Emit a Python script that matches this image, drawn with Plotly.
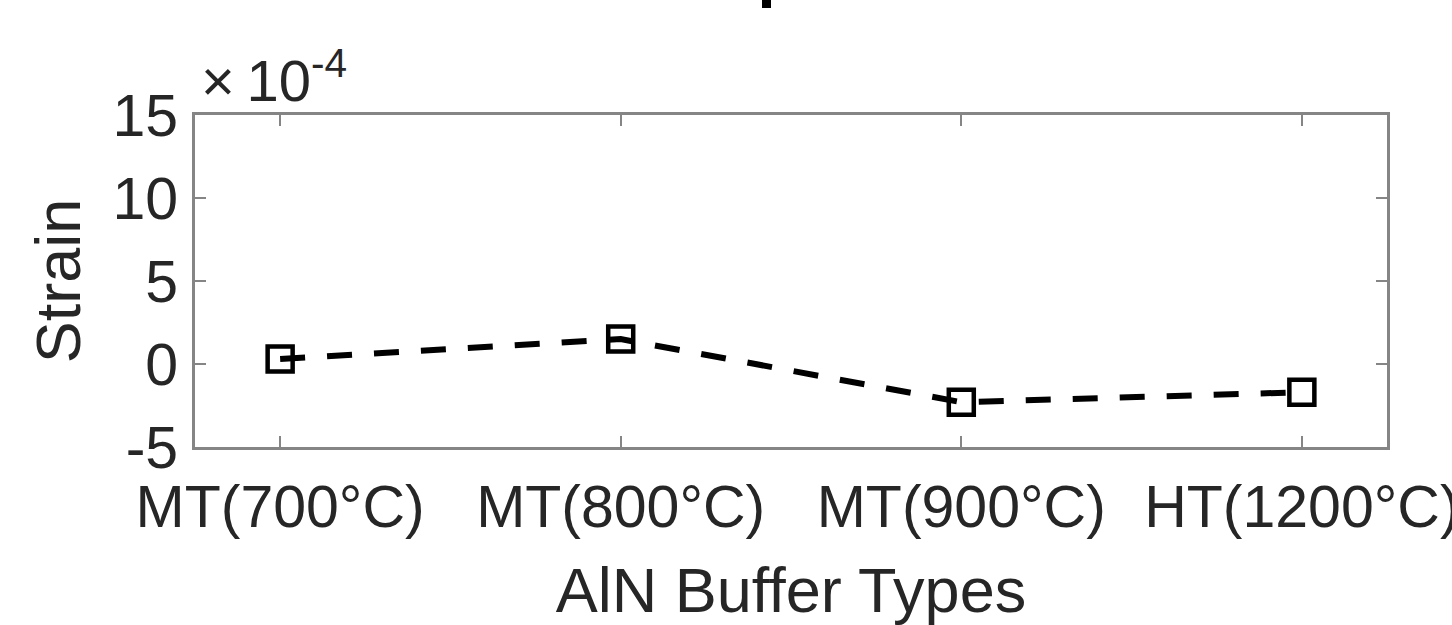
import plotly.graph_objects as go

# AlN buffer types and the measured strain (in units of 1e-4)
buffer_types = ["MT(700°C)", "MT(800°C)", "MT(900°C)", "HT(1200°C)"]
strain_e4 = [0.3, 1.5, -2.3, -1.7]
y_ticks = [-5, 0, 5, 10, 15]
y_tick_text = ["-5", "0", "5", "10", "15"]

x_pos = list(range(len(buffer_types)))

FONT = "Liberation Sans, Arial, Helvetica, sans-serif"
TEXT = "#262626"
AXIS = "#858585"

fig = go.Figure()

# open square markers underneath, dashed line drawn on top of them
fig.add_trace(go.Scatter(
    x=x_pos, y=strain_e4, mode="markers",
    marker=dict(symbol="square-open", size=25, color="black",
                line=dict(width=4.5, color="black")),
    showlegend=False, hoverinfo="skip",
))
fig.add_trace(go.Scatter(
    x=x_pos, y=strain_e4, mode="lines",
    line=dict(color="black", width=6, dash="25px,22px"),
    showlegend=False,
))

fig.update_layout(
    width=1452, height=625,
    margin=dict(l=195, r=65, t=115, b=178, autoexpand=False),
    paper_bgcolor="white", plot_bgcolor="white",
    font=dict(family=FONT, color=TEXT, size=58),
    xaxis=dict(
        range=[-0.25, 3.25],
        tickvals=x_pos, ticktext=buffer_types,
        ticks="inside", ticklen=11, tickwidth=2, tickcolor=AXIS,
        showline=True, linecolor=AXIS, linewidth=3, mirror="ticks",
        showgrid=False, zeroline=False, automargin=False,
        tickfont=dict(size=59, family=FONT, color=TEXT),
        ticklabelstandoff=6, ticklabeloverflow="allow",
        title=dict(text="AlN Buffer Types", font=dict(size=63, family=FONT, color=TEXT),
                   standoff=30),
    ),
    yaxis=dict(
        range=[-5, 15],
        tickvals=y_ticks, ticktext=y_tick_text,
        ticks="inside", ticklen=11, tickwidth=2, tickcolor=AXIS,
        showline=True, linecolor=AXIS, linewidth=3, mirror="ticks",
        showgrid=False, zeroline=False, automargin=False,
        tickfont=dict(size=59, family=FONT, color=TEXT),
        ticklabelstandoff=2,
        title=dict(text="Strain", font=dict(size=63, family=FONT, color=TEXT),
                   standoff=12),
    ),
    annotations=[
        dict(text="×\u200910<sup>-4</sup>", xref="paper", yref="paper",
             x=0.0, y=1.0, xanchor="left", yanchor="bottom",
             xshift=4, yshift=0, showarrow=False,
             font=dict(size=58, family=FONT, color=TEXT)),
    ],
    shapes=[
        # fragment of heading text clipped at the top edge
        dict(type="rect", xref="paper", yref="paper",
             x0=(762 - 195) / 1192, x1=(771 - 195) / 1192,
             y0=(447 - 8) / 332, y1=(447 + 2) / 332,
             fillcolor="black", line=dict(width=0)),
    ],
)

fig.write_html("out.html")
